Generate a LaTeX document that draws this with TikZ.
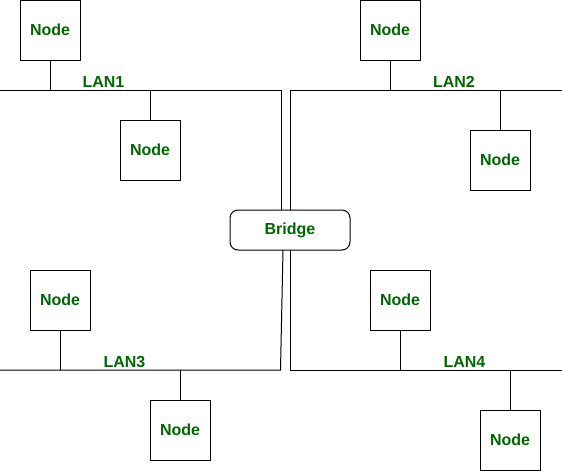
\documentclass[tikz,border=0pt]{standalone}
\usepackage{fontspec}
\setmainfont{Liberation Sans}
\definecolor{txtgreen}{RGB}{0,102,0}
\begin{document}
\begin{tikzpicture}[x=1pt,y=-1pt,
  box/.style={draw=black,line width=1pt,fill=white,minimum width=60pt,minimum height=60pt,inner sep=0pt,
    font=\fontsize{16}{19}\selectfont\bfseries,text=txtgreen},
  bridgebox/.style={draw=black,line width=1pt,fill=white,rounded corners=8pt,minimum width=120pt,minimum height=40pt,inner sep=0pt,
    font=\fontsize{16}{19}\selectfont\bfseries,text=txtgreen},
  lanlabel/.style={anchor=base,inner sep=0pt,font=\fontsize{16}{19}\selectfont\bfseries,text=txtgreen},
  wire/.style={draw=black,line width=1pt}]
\useasboundingbox (0,0) rectangle (562,471);
% bridge
\node[bridgebox] (br) at (290,230) {Bridge};
% bus coordinates
\coordinate (l1s) at (0,90);
\coordinate (l1e) at (281,90);
\coordinate (l1b) at (281,210);
\coordinate (l2s) at (562,90);
\coordinate (l2e) at (290,90);
\coordinate (l2b) at (290,210);
\coordinate (l3s) at (0,370);
\coordinate (l3e) at (280.5,370);
\coordinate (l3b) at (283,250);
\coordinate (l4s) at (562,370);
\coordinate (l4e) at (290,370);
\coordinate (l4b) at (290,250);
\draw[wire] (l1s) -- (l1e) -- (l1b);
\draw[wire] (l2s) -- (l2e) -- (l2b);
\draw[wire] (l3s) -- (l3e) -- (l3b);
\draw[wire] (l4s) -- (l4e) -- (l4b);
% labels
\node[lanlabel] (lab1) at (103.5,87) {LAN1};
\node[lanlabel] (lab2) at (454,87) {LAN2};
\node[lanlabel] (lab3) at (124.5,367) {LAN3};
\node[lanlabel] (lab4) at (464.5,367) {LAN4};
% nodes
\node[box] (nA) at (50,30) {Node};
\node[box] (nB) at (150,150) {Node};
\node[box] (nC) at (390,30) {Node};
\node[box] (nD) at (500,160) {Node};
\node[box] (nE) at (60,300) {Node};
\node[box] (nF) at (180,430) {Node};
\node[box] (nG) at (400,300) {Node};
\node[box] (nH) at (510,440) {Node};
% taps
\coordinate (tA) at (50,90);
\coordinate (tB) at (150,90);
\coordinate (tC) at (390,90);
\coordinate (tD) at (500,90);
\coordinate (tE) at (60,370);
\coordinate (tF) at (180,370);
\coordinate (tG) at (400,370);
\coordinate (tH) at (510,370);
\draw[wire] (nA.south) -- (tA);
\draw[wire] (nB.north) -- (tB);
\draw[wire] (nC.south) -- (tC);
\draw[wire] (nD.north) -- (tD);
\draw[wire] (nE.south) -- (tE);
\draw[wire] (nF.north) -- (tF);
\draw[wire] (nG.south) -- (tG);
\draw[wire] (nH.north) -- (tH);
\end{tikzpicture}
\end{document}
